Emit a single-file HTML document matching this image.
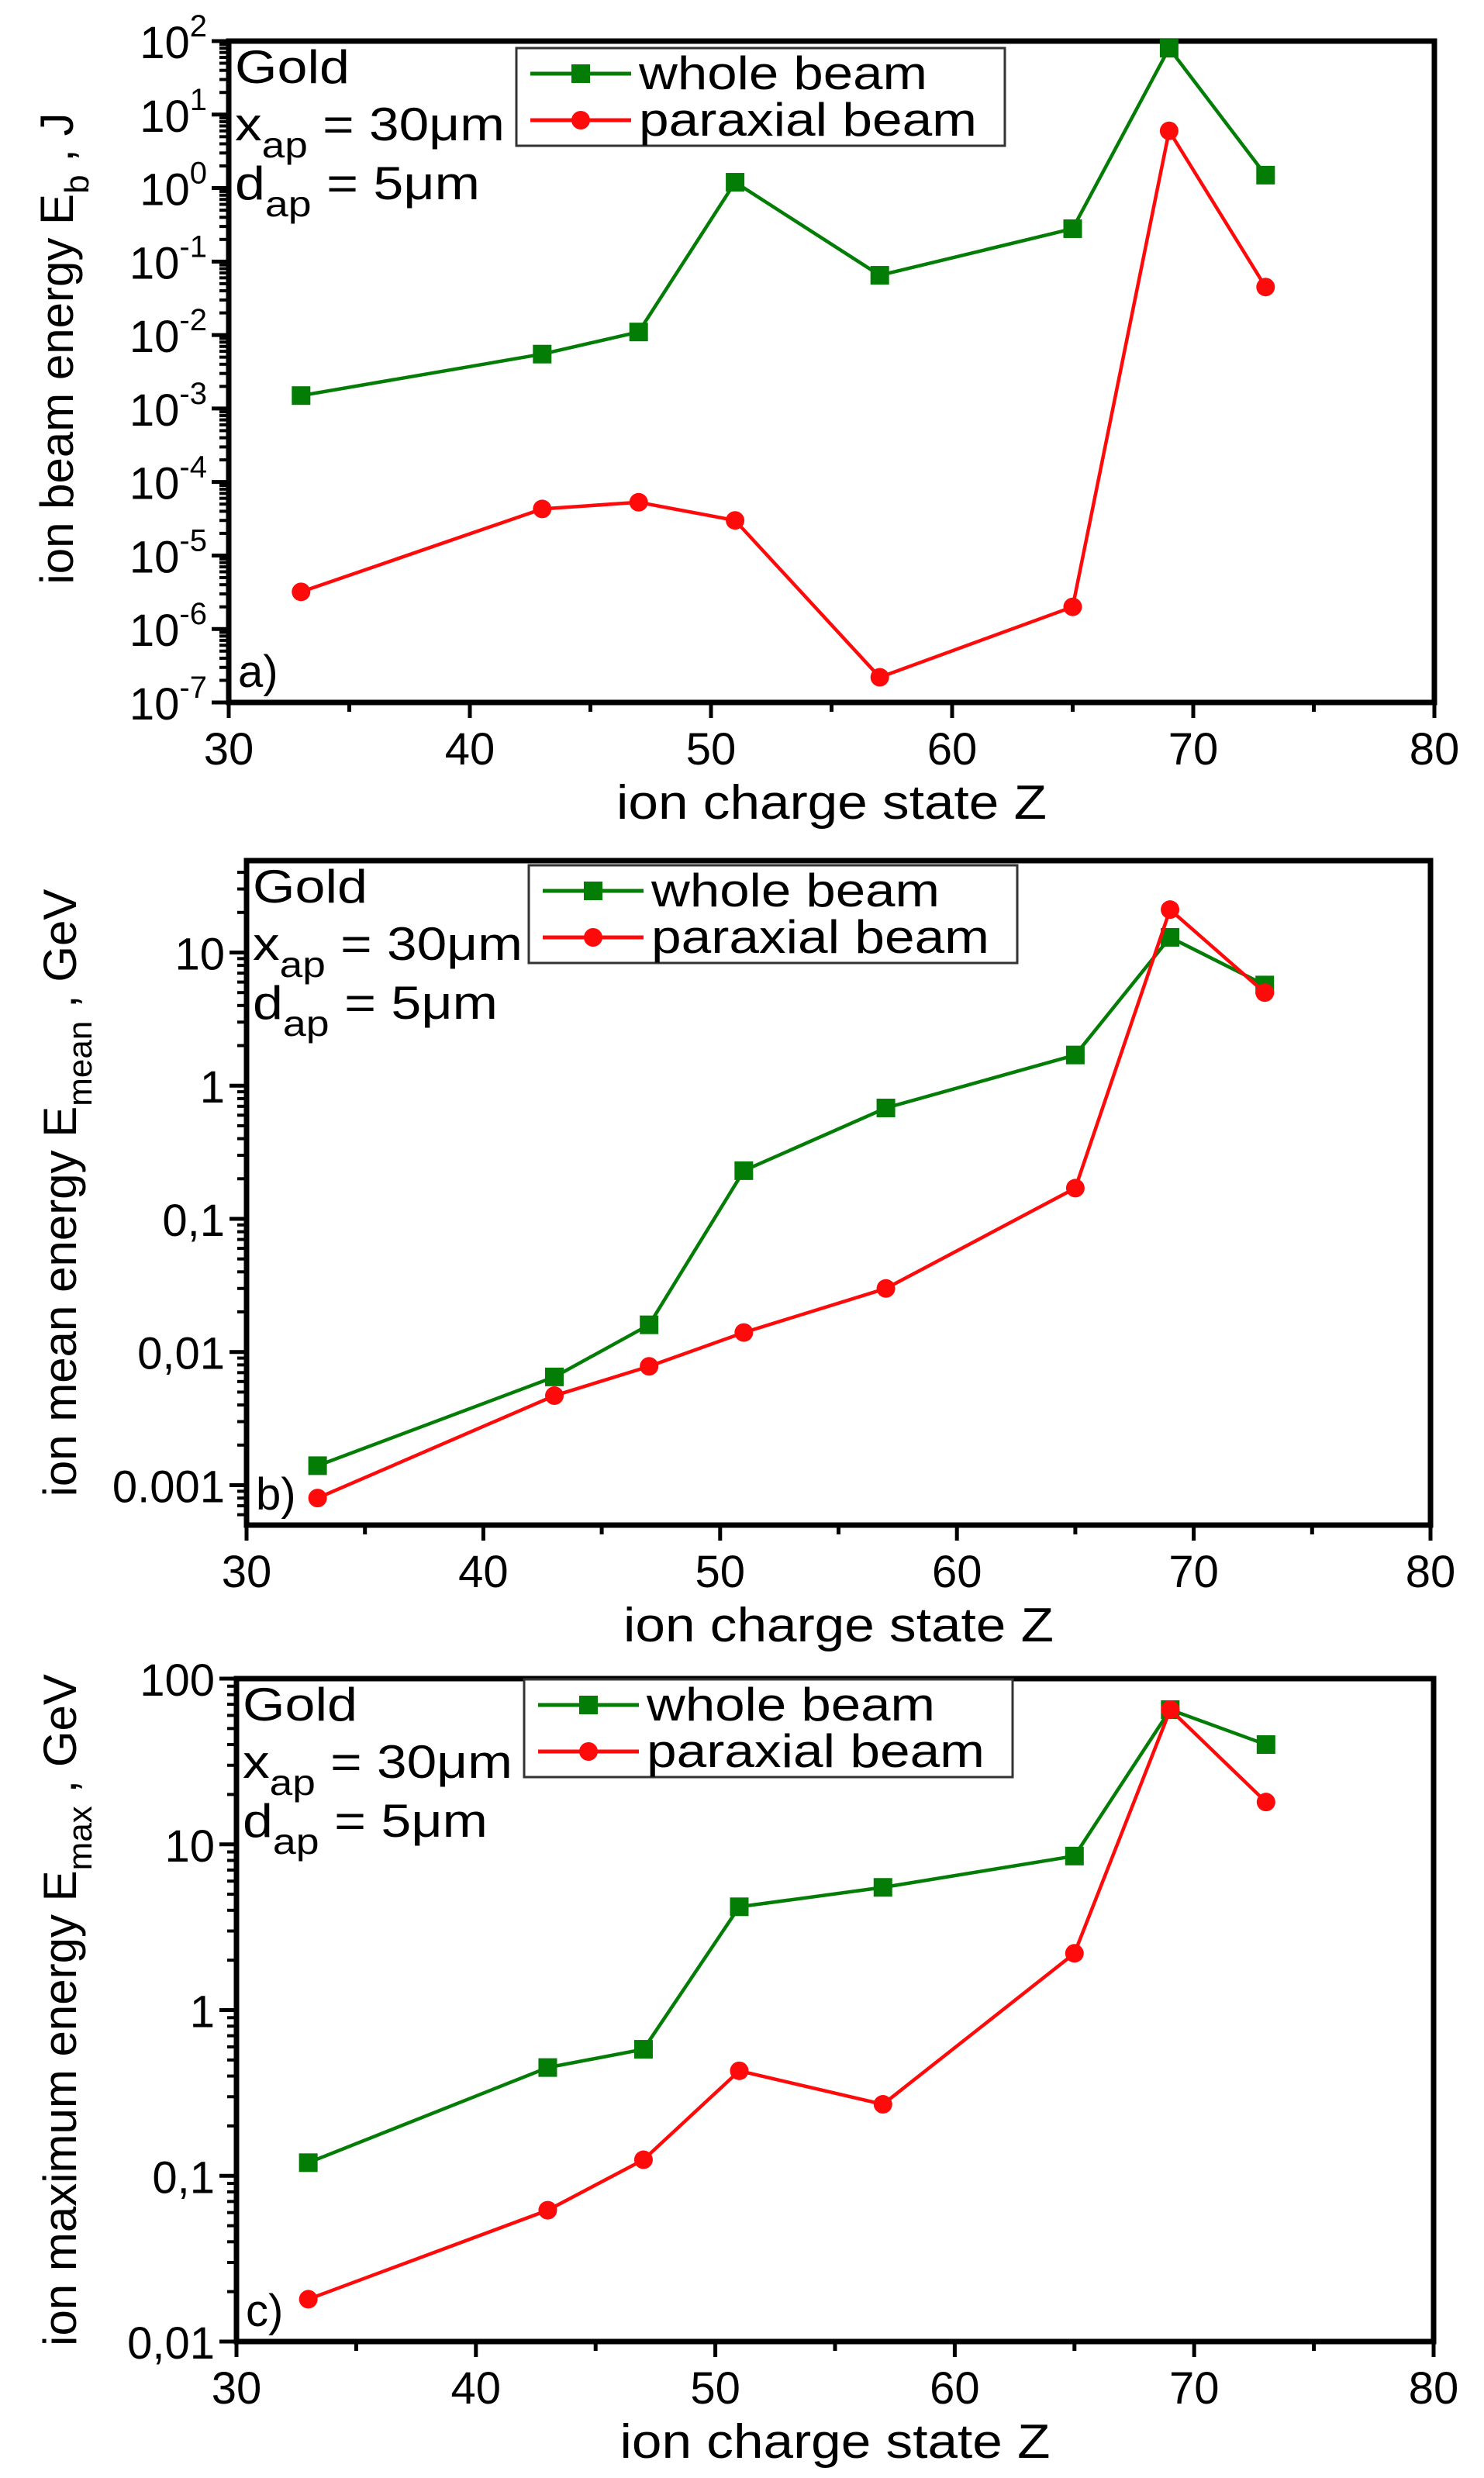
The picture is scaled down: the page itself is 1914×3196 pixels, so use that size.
<!DOCTYPE html>
<html><head><meta charset="utf-8"><style>
html,body{margin:0;padding:0;background:#fff;}
svg{display:block;font-family:"Liberation Sans",Arial,sans-serif;}
</style></head><body>
<svg id="fig" width="1914" height="3196" viewBox="0 0 1914 3196" xmlns="http://www.w3.org/2000/svg"></svg>
<script>
const categoriesZ = [33, 43, 47, 51, 57, 65, 69, 73];
const xTicks = [30, 40, 50, 60, 70, 80];
// panel a: ion beam energy (J)
const aWhole = [1.5e-3, 5.5e-3, 1.1e-2, 1.2, 0.065, 0.28, 80, 1.5];
const aParaxial = [3.2e-6, 4.3e-5, 5.3e-5, 3.0e-5, 2.2e-7, 2.0e-6, 6, 0.045];
const aTickExp = [-7, -6, -5, -4, -3, -2, -1, 0, 1, 2];
// panel b: ion mean energy (GeV)
const bWhole = [0.0014, 0.0065, 0.016, 0.23, 0.68, 1.7, 13, 5.7];
const bParaxial = [0.0008, 0.0047, 0.0078, 0.014, 0.03, 0.17, 21, 5.0];
const bTickVals = [0.001, 0.01, 0.1, 1, 10];
const bTickLabels = ["0.001", "0,01", "0,1", "1", "10"];
// panel c: ion maximum energy (GeV)
const cWhole = [0.12, 0.45, 0.58, 4.2, 5.5, 8.5, 65, 40];
const cParaxial = [0.018, 0.062, 0.125, 0.43, 0.27, 2.2, 65, 18];
const cTickVals = [0.01, 0.1, 1, 10, 100];
const cTickLabels = ["0,01", "0,1", "1", "10", "100"];

const NS = "http://www.w3.org/2000/svg";
const svg = document.getElementById('fig');
function mk(tag, attrs, parent, text) {
  const e = document.createElementNS(NS, tag);
  for (const k in attrs) e.setAttribute(k, attrs[k]);
  if (text !== undefined) e.textContent = text;
  (parent || svg).appendChild(e);
  return e;
}

function panel(cfg) {
  const g = mk('g', {});
  
  
  const L = cfg.L, R = cfg.R, T = cfg.T, B = cfg.B;
  const lmin = Math.log10(cfg.ymin), lmax = Math.log10(cfg.ymax);
  const xs = z => L + (z - 30) / 50 * (R - L);
  const ys = v => B - (Math.log10(v) - lmin) / (lmax - lmin) * (B - T);

  for (let d = Math.floor(lmin); d <= Math.ceil(lmax); d++) {
    for (let m = 2; m <= 9; m++) {
      const v = m * Math.pow(10, d);
      const lv = Math.log10(v);
      if (lv < lmin || lv > lmax) continue;
      const t = mk('line', {x1: L - 12, x2: L, y1: ys(v), y2: ys(v), stroke: '#000', 'stroke-width': 4}, g);
      
      
    }
  }
  cfg.yTicks.forEach((v, i) => {
    const y = ys(v);
    const t = mk('line', {x1: L - 22, x2: L, y1: y, y2: y, stroke: '#000', 'stroke-width': 5}, g);
    
    
    let lab;
    if (cfg.expLabels) {
      lab = mk('text', {x: L - 28, y: y + 22, 'text-anchor': 'end', 'font-size': 58, fill: '#000'}, g);
      mk('tspan', {}, lab, '10');
      mk('tspan', {dy: -28, 'font-size': 40}, lab, String(cfg.yLabels[i]));
    } else {
      lab = mk('text', {x: L - 28, y: y + 22, 'text-anchor': 'end', 'font-size': 58, fill: '#000'}, g, cfg.yLabels[i]);
    }
    
    
  });
  for (let z = 30; z <= 80; z += 5) {
    const major = z % 10 === 0;
    const t = mk('line', {x1: xs(z), x2: xs(z), y1: B, y2: B + (major ? 20 : 12), stroke: '#000', 'stroke-width': 5}, g);
    
    
  }
  xTicks.forEach(z => {
    const lab = mk('text', {x: xs(z), y: B + 80, 'text-anchor': 'middle', 'font-size': 58, fill: '#000'}, g, String(z));
    
    
  });
  const fr = mk('rect', {x: L, y: T, width: R - L, height: B - T, fill: 'none', stroke: '#000', 'stroke-width': 7}, g);
  
  

  function series(vals, color, marker, nm) {
    const sg = mk('g', {}, g);
    
    
    const pts = categoriesZ.map((z, i) => xs(z) + ',' + ys(vals[i])).join(' ');
    const pl = mk('polyline', {points: pts, fill: 'none', stroke: color, 'stroke-width': 4.5, 'stroke-linejoin': 'round'}, sg);
    
    
    categoriesZ.forEach((z, i) => {
      const x = xs(z), y = ys(vals[i]);
      let m;
      if (marker === 'square') m = mk('rect', {x: x - 12, y: y - 12, width: 24, height: 24, fill: color}, sg);
      else m = mk('circle', {cx: x, cy: y, r: 12, fill: color}, sg);
      
      
    });
  }
  series(cfg.whole, '#047d06', 'square', 'whole-beam-series');
  series(cfg.parax, '#ff0a0a', 'circle', 'paraxial-beam-series');

  const an = mk('g', {}, g);
  
  
  const ax = L + 8, ay = T + 54;
  mk('text', {x: ax, y: ay, 'font-size': 60, textLength: 148, lengthAdjust: 'spacingAndGlyphs'}, an, 'Gold');
  const t2 = mk('text', {x: ax, y: ay + 74, 'font-size': 60, textLength: 348, lengthAdjust: 'spacingAndGlyphs'}, an);
  mk('tspan', {}, t2, 'x');
  mk('tspan', {dy: 22, 'font-size': 46}, t2, 'ap');
  mk('tspan', {dy: -22}, t2, ' = 30\u03bcm');
  const t3 = mk('text', {x: ax, y: ay + 150, 'font-size': 60, textLength: 316, lengthAdjust: 'spacingAndGlyphs'}, an);
  mk('tspan', {}, t3, 'd');
  mk('tspan', {dy: 22, 'font-size': 46}, t3, 'ap');
  mk('tspan', {dy: -22}, t3, ' = 5\u03bcm');

  const lg = mk('g', {}, g);
  
  
  const lx = cfg.legX, ly = cfg.legY;
  mk('rect', {x: lx, y: ly, width: 630, height: 126, fill: '#fff', stroke: '#333', 'stroke-width': 3}, lg);
  const e1 = mk('g', {}, lg);
  
  
  mk('line', {x1: lx + 18, x2: lx + 148, y1: ly + 33, y2: ly + 33, stroke: '#047d06', 'stroke-width': 5}, e1);
  mk('rect', {x: lx + 71, y: ly + 21, width: 24, height: 24, fill: '#047d06'}, e1);
  mk('text', {x: lx + 158, y: ly + 53, 'font-size': 60, textLength: 372, lengthAdjust: 'spacingAndGlyphs'}, e1, 'whole beam');
  const e2 = mk('g', {}, lg);
  
  
  mk('line', {x1: lx + 18, x2: lx + 148, y1: ly + 93, y2: ly + 93, stroke: '#ff0a0a', 'stroke-width': 5}, e2);
  mk('circle', {cx: lx + 83, cy: ly + 93, r: 12, fill: '#ff0a0a'}, e2);
  mk('text', {x: lx + 158, y: ly + 113, 'font-size': 60, textLength: 436, lengthAdjust: 'spacingAndGlyphs'}, e2, 'paraxial beam');

  const pl = mk('text', {x: L + 12, y: B - 20, 'font-size': 58}, g, cfg.letter);
  
  

  const xt = mk('text', {x: (L + R) / 2, y: B + 150, 'text-anchor': 'middle', 'font-size': 62, textLength: 555, lengthAdjust: 'spacingAndGlyphs'}, g, 'ion charge state Z');
  
  
  const yc = (T + B) / 2 + cfg.yTitleShift;
  const yt = mk('text', {x: 0, y: 0, 'text-anchor': 'middle', 'font-size': 60, transform: 'translate(' + cfg.yTitleX + ',' + yc + ') rotate(-90)'}, g);
  mk('tspan', {}, yt, cfg.yTitle);
  mk('tspan', {dy: 20, 'font-size': 44}, yt, cfg.ySub);
  mk('tspan', {dy: -20}, yt, cfg.yUnit);
  
  
}

panel({name: 'panel-a-beam-energy', L: 295, R: 1850, T: 53, B: 906, ymin: 1e-7, ymax: 1e2,
  yTicks: aTickExp.map(e => Math.pow(10, e)), yLabels: aTickExp, expLabels: true,
  whole: aWhole, parax: aParaxial, legX: 666, legY: 62, letter: 'a)',
  yTitleX: 94, yTitleShift: -30, yTitle: 'ion beam energy E', ySub: 'b', yUnit: ' , J'});
panel({name: 'panel-b-mean-energy', L: 318, R: 1845, T: 1110, B: 1967, ymin: Math.pow(10, -3.3), ymax: Math.pow(10, 1.69),
  yTicks: bTickVals, yLabels: bTickLabels, expLabels: false,
  whole: bWhole, parax: bParaxial, legX: 682, legY: 1116, letter: 'b)',
  yTitleX: 98, yTitleShift: 0, yTitle: 'ion mean energy E', ySub: 'mean', yUnit: ' , GeV'});
panel({name: 'panel-c-max-energy', L: 305, R: 1849, T: 2165, B: 3020, ymin: 0.01, ymax: 100,
  yTicks: cTickVals, yLabels: cTickLabels, expLabels: false,
  whole: cWhole, parax: cParaxial, legX: 676, legY: 2166, letter: 'c)',
  yTitleX: 98, yTitleShift: 0, yTitle: 'ion maximum energy E', ySub: 'max', yUnit: ' , GeV'});
</script>
</body></html>
